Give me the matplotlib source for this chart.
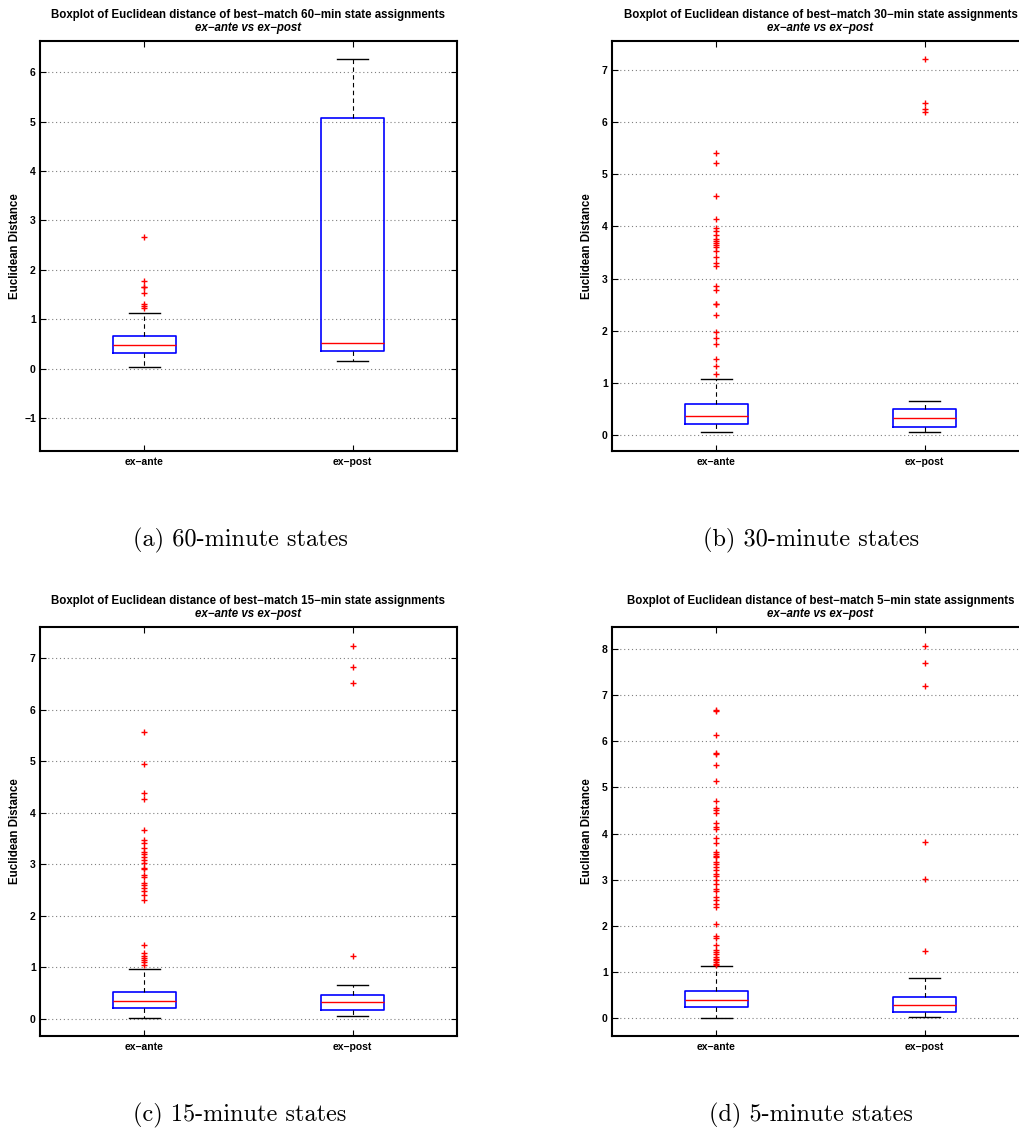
import matplotlib
matplotlib.use("Agg")
import matplotlib.pyplot as plt

# five-number summaries: [whisker low, q1, median, q3, whisker high]
groups = ["ex\u2212ante", "ex\u2212post"]
panels = ["60", "30", "15", "5"]
captions = ["(a) 60-minute states", "(b) 30-minute states",
            "(c) 15-minute states", "(d) 5-minute states"]

ante_60 = [0.04, 0.31, 0.47, 0.66, 1.13]
ante_60_out = [2.67, 1.77, 1.66, 1.65, 1.53, 1.30, 1.26, 1.22]
post_60 = [0.16, 0.36, 0.51, 5.07, 6.26]
post_60_out = []

ante_30 = [0.06, 0.22, 0.37, 0.60, 1.08]
ante_30_out = [5.41, 5.21, 4.59, 4.14, 3.97, 3.91, 3.84, 3.76, 3.73, 3.68, 3.65,
               3.60, 3.53, 3.41, 3.29, 3.25, 2.86, 2.78, 2.52, 2.51, 2.30, 1.98,
               1.86, 1.74, 1.47, 1.33, 1.17]
post_30 = [0.07, 0.16, 0.33, 0.50, 0.66]
post_30_out = [7.20, 6.36, 6.25, 6.20]

ante_15 = [0.01, 0.20, 0.34, 0.52, 0.97]
ante_15_out = [5.57, 4.95, 4.38, 4.27, 3.67, 3.47, 3.41, 3.32, 3.24, 3.20, 3.13,
               3.08, 3.02, 2.93, 2.91, 2.79, 2.76, 2.63, 2.60, 2.53, 2.47, 2.40,
               2.31, 1.43, 1.28, 1.22, 1.17, 1.14, 1.09, 1.04]
post_15 = [0.05, 0.17, 0.32, 0.45, 0.65]
post_15_out = [7.25, 6.83, 6.53, 1.21]

ante_5 = [0.00, 0.23, 0.38, 0.59, 1.13]
ante_5_out = [6.67, 6.65, 6.14, 5.74, 5.73, 5.48, 5.14, 4.71, 4.55, 4.51, 4.44,
              4.23, 4.14, 4.10, 3.90, 3.79, 3.60, 3.56, 3.52, 3.49, 3.38, 3.33,
              3.27, 3.20, 3.13, 3.07, 3.00, 2.91, 2.80, 2.75, 2.62, 2.55, 2.48,
              2.41, 2.03, 1.77, 1.74, 1.58, 1.48, 1.43, 1.38, 1.33, 1.29, 1.25,
              1.22, 1.18, 1.16]
post_5 = [0.02, 0.12, 0.29, 0.45, 0.86]
post_5_out = [8.07, 7.71, 7.21, 3.82, 3.01, 1.45]

stats = [(ante_60, ante_60_out, post_60, post_60_out),
         (ante_30, ante_30_out, post_30, post_30_out),
         (ante_15, ante_15_out, post_15, post_15_out),
         (ante_5, ante_5_out, post_5, post_5_out)]

ylims = [(-1.67, 6.63), (-0.30, 7.55), (-0.34, 7.61), (-0.39, 8.48)]
yticks = [range(-1, 7), range(0, 8), range(0, 8), range(0, 9)]

W, H = 1020, 1143
fig = plt.figure(figsize=(W / 100, H / 100), dpi=100)
plt.rcParams['font.family'] = ['Liberation Sans', 'DejaVu Sans']

# axes boxes in pixels: left, top, right, bottom
boxes = [(40, 41, 457, 451), (612, 41, 1029, 451),
         (40, 627, 457, 1036), (612, 627, 1029, 1036)]
caption_y = [540, 1115]

def make_stats(five, out, label):
    lo, q1, med, q3, hi = five
    return dict(whislo=lo, q1=q1, med=med, q3=q3, whishi=hi, fliers=out, label=label)

for i, (a_five, a_out, p_five, p_out) in enumerate(stats):
    l, t, r, b = boxes[i]
    ax = fig.add_axes([l / W, 1 - b / H, (r - l) / W, (b - t) / H])
    bxp_stats = [make_stats(a_five, a_out, groups[0]), make_stats(p_five, p_out, groups[1])]
    ax.bxp(bxp_stats, positions=[1, 2], widths=0.3, capwidths=0.15,
           boxprops=dict(color='#0000ff', linewidth=1.2),
           medianprops=dict(color='#ff0000', linewidth=1.0),
           whiskerprops=dict(color='black', linewidth=0.8, linestyle=(0, (4, 3))),
           capprops=dict(color='black', linewidth=1.0),
           flierprops=dict(marker='+', markeredgecolor='#ff0000', markersize=4.5,
                           markeredgewidth=1.0, linestyle='none'))
    ax.set_xlim(0.5, 2.5)
    ax.set_ylim(*ylims[i])
    ax.set_yticks(list(yticks[i]))
    ax.yaxis.grid(True, linestyle=(0, (1, 2.5)), color='0.5', linewidth=0.8)
    ax.set_axisbelow(True)
    ax.tick_params(direction='in', top=True, right=True, length=4, width=0.8,
                   labelsize=7.5, pad=3)
    ax.tick_params(axis='x', pad=4)
    for lab in ax.get_xticklabels() + ax.get_yticklabels():
        lab.set_fontweight('bold')
    for sp in ax.spines.values():
        sp.set_linewidth(1.5)
    ax.set_ylabel("Euclidean Distance", fontsize=8.3, fontweight='bold')
    ax.yaxis.set_label_coords(-0.045, 0.5)

    ax.annotate("Boxplot of Euclidean distance of best\u2212match %s\u2212min state assignments" % panels[i],
                xy=(0.5, 1), xycoords='axes fraction', xytext=(0, 26),
                textcoords='offset pixels', ha='center', va='center',
                fontsize=8.3, fontweight='bold')
    ax.annotate("ex\u2212ante vs ex\u2212post",
                xy=(0.5, 1), xycoords='axes fraction', xytext=(0, 13),
                textcoords='offset pixels', ha='center', va='center',
                fontsize=8.3, fontweight='bold', fontstyle='italic')

cap_x = [240, 811]
for i, cap in enumerate(captions):
    fig.text(cap_x[i % 2] / W, 1 - caption_y[i // 2] / H, cap, ha='center', va='center',
             fontsize=17.5, family='cmr10')

fig.savefig("out.png", dpi=100)
